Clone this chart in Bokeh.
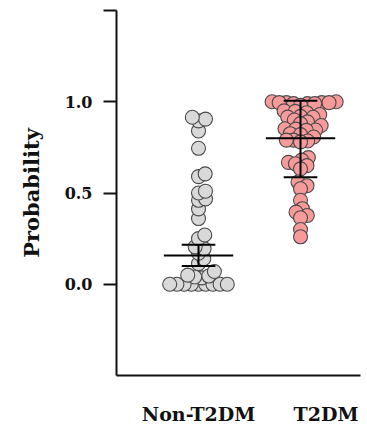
import math
from bokeh.plotting import figure
from bokeh.models import Range1d, FixedTicker, ColumnDataSource
from bokeh.embed import file_html
from bokeh.resources import INLINE

# ---- data ----
groups = ["Non-T2DM", "T2DM"]
non_t2dm = [0, 0, 0, 0, 0, 0, 0, 0, 0, 0.035, 0.04, 0.045, 0.05, 0.07, 0.113,
            0.14, 0.17, 0.195, 0.205, 0.25, 0.27, 0.36, 0.413, 0.46, 0.468,
            0.50, 0.51, 0.59, 0.605, 0.745, 0.84, 0.895, 0.905, 0.915]
t2dm = [0.995, 0.995, 0.99, 1.0, 0.995, 0.99, 1.0, 0.995, 0.99, 0.98,
        0.95, 0.947, 0.94, 0.93, 0.92, 0.916, 0.915,
        0.90, 0.89, 0.88, 0.87,
        0.852, 0.85, 0.845, 0.843, 0.825, 0.82,
        0.807, 0.79, 0.79, 0.785, 0.78,
        0.694, 0.68, 0.668, 0.66, 0.65, 0.632,
        0.56, 0.54, 0.523, 0.46, 0.414, 0.395, 0.377, 0.364, 0.30, 0.26]
means = [0.158, 0.80]
lowers = [0.10, 0.586]
uppers = [0.216, 1.005]
y_ticks = [0.0, 0.5, 1.0, 1.5]
y_tick_labels = ["0.0", "0.5", "1.0", ""]

# ---- layout ----
W, H = 367, 427
L, R, T, B = 116, 7, 10, 52
x0, x1 = -0.804, 1.588
y0, y1 = -0.5, 1.5
group_x = [0, 1]
label_x = [0, 1.25]
xsc = (W - L - R) / (x1 - x0)
ysc = (H - T - B) / (y1 - y0)
DOT = 14
SEP = 7.2


def beeswarm(vals, d):
    placed = []
    offs = [0.0] * len(vals)
    order = sorted(range(len(vals)), key=lambda i: vals[i])
    for i in order:
        y = vals[i] * ysc
        cands = [0.0]
        for px, py in placed:
            dy = y - py
            if abs(dy) < d:
                w = math.sqrt(d * d - dy * dy)
                cands += [px + w, px - w]
        cands.sort(key=abs)
        chosen = 0.0
        for c in cands:
            if all((c - px) ** 2 + (y - py) ** 2 >= d * d - 1e-6 for px, py in placed):
                chosen = c
                break
        placed.append((chosen, y))
        offs[i] = chosen / xsc
    return offs


p = figure(width=W, height=H, output_backend="svg", toolbar_location=None,
           x_range=Range1d(x0, x1), y_range=Range1d(y0, y1),
           min_border_left=L, min_border_right=R, min_border_top=T,
           min_border_bottom=B)
p.outline_line_color = None
p.grid.visible = False
p.background_fill_color = "white"
p.border_fill_color = "white"

fills = ["#d9d9d9", "#f79a9a"]
for gx, vals, fc in zip(group_x, [non_t2dm, t2dm], fills):
    offs = beeswarm(vals, SEP)
    src = ColumnDataSource(dict(x=[gx + o for o in offs], y=vals))
    p.scatter("x", "y", source=src, size=DOT, fill_color=fc,
              line_color="#4a4a4a", line_width=1.1)

# error bars
mean_hw = 0.34
cap_hw = 0.165
p.segment(x0=[g - mean_hw for g in group_x], x1=[g + mean_hw for g in group_x],
          y0=means, y1=means, line_color="black", line_width=2)
p.segment(x0=[g - cap_hw for g in group_x], x1=[g + cap_hw for g in group_x],
          y0=uppers, y1=uppers, line_color="black", line_width=2)
p.segment(x0=[g - cap_hw for g in group_x], x1=[g + cap_hw for g in group_x],
          y0=lowers, y1=lowers, line_color="black", line_width=2)
p.segment(x0=group_x, x1=group_x, y0=lowers, y1=uppers,
          line_color="black", line_width=2)

font = "DejaVu Serif"
# y axis
ya = p.yaxis[0]
ya.ticker = FixedTicker(ticks=y_ticks)
ya.major_label_overrides = {t: s for t, s in zip(y_ticks, y_tick_labels)}
ya.minor_tick_line_color = None
ya.major_tick_out = 13
ya.major_tick_in = 0
ya.axis_line_width = 2
ya.major_tick_line_width = 2
ya.axis_line_color = "#111111"
ya.major_tick_line_color = "#111111"
ya.major_label_text_font = font
ya.major_label_text_font_style = "bold"
ya.major_label_text_font_size = "16px"
ya.major_label_text_color = "#111111"
ya.major_label_standoff = 11
ya.axis_label = "Probability"
ya.axis_label_text_font = font
ya.axis_label_text_font_style = "bold"
ya.axis_label_text_font_size = "21px"
ya.axis_label_text_color = "#111111"
ya.axis_label_standoff = 18

# x axis
xa = p.xaxis[0]
xa.ticker = FixedTicker(ticks=label_x)
xa.major_label_overrides = {t: s for t, s in zip(label_x, groups)}
xa.minor_tick_line_color = None
xa.major_tick_out = 0
xa.major_tick_in = 0
xa.axis_line_width = 2
xa.axis_line_color = "#111111"
xa.major_label_text_font = font
xa.major_label_text_font_style = "bold"
xa.major_label_text_font_size = "19px"
xa.major_label_text_color = "#111111"
xa.major_label_standoff = 27

open("out.html", "w").write(file_html(p, INLINE))
